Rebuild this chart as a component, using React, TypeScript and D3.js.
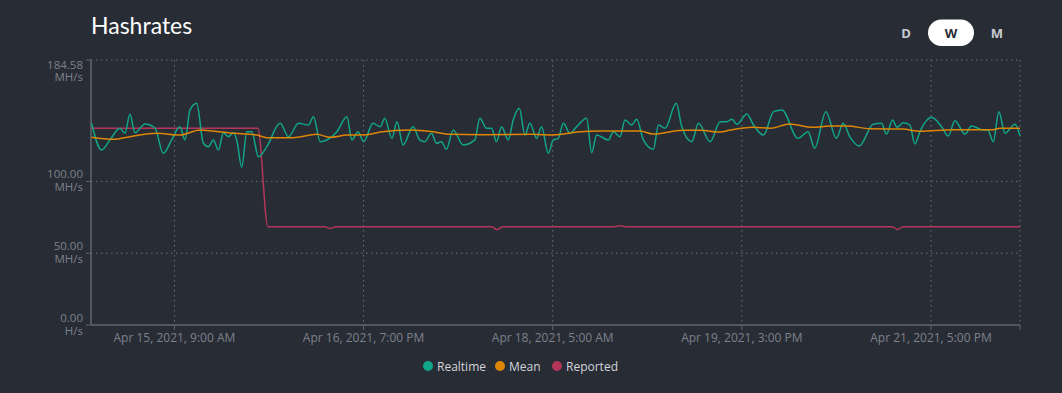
import React from "react";
import * as d3 from "d3";

// hours since Apr 14, 2021 18:00
const realtimeHours = [
  0.1, 1.9, 3.4, 5.2, 6.1, 7.0, 7.9, 9.7, 11.5, 13.0, 14.5, 16.0, 16.9, 17.8, 19.0, 20.2,
  21.1, 22.0, 22.9, 23.8, 24.7, 25.6, 26.2, 27.1, 28.0, 28.9, 30.1, 31.6, 34.0, 35.5, 37.3,
  39.1, 40.0, 41.2, 44.2, 46.0, 46.9, 48.0, 49.0, 50.7, 52.0, 52.8, 54.1, 55.0, 56.1, 57.9,
  59.1, 60.0, 61.2, 62.1, 63.0, 63.9, 65.1, 66.9, 69.0, 69.9, 71.1, 72.0, 72.9, 73.8, 75.0,
  75.9, 77.0, 78.0, 78.9, 80.1, 81.0, 82.2, 83.1, 84.0, 84.9, 86.1, 87.3, 89.1, 90.0, 90.9,
  93.0, 93.9, 95.1, 96.0, 97.2, 98.1, 99.3, 101.1, 102.0, 103.2, 105.2, 106.2, 108.0, 109.2,
  111.3, 113.1, 114.3, 115.2, 116.1, 117.9, 119.1, 120.9, 122.7, 124.2, 127.1, 128.9, 130.1,
  132.1, 134.0, 135.2, 136.4, 138.1, 140.6, 142.1, 143.0, 144.1, 144.9, 146.0, 147.2, 148.1,
  149.0, 151.1, 152.9, 154.1, 155.3, 157.1, 158.3, 160.4, 161.2, 162.2, 163.2, 164.3, 166.1, 167.0,
];
const realtimeValues = [
  140.5, 121.9, 128.9, 137.0, 133.5, 146.8, 133.9, 140.0, 137.2, 119.6, 128.9, 138.1, 128.9,
  149.8, 154.4, 126.6, 124.2, 128.9, 121.9, 133.9, 131.2, 133.9, 128.9, 109.8, 134.6, 134.6,
  117.2, 124.2, 140.5, 131.2, 140.5, 139.3, 145.1, 127.7, 134.6, 145.1, 128.9, 134.6, 127.7,
  140.5, 138.1, 144.0, 130.0, 141.6, 125.4, 138.1, 128.9, 127.7, 133.5, 126.6, 127.7, 122.4,
  135.8, 125.4, 128.9, 144.0, 137.0, 137.0, 127.7, 138.1, 128.9, 142.8, 150.9, 132.3, 140.5,
  130.0, 138.1, 119.6, 128.9, 130.0, 140.5, 133.5, 138.1, 144.0, 120.0, 132.3, 128.9, 134.6,
  131.2, 142.8, 139.3, 143.3, 128.9, 122.4, 139.3, 137.0, 154.4, 138.1, 127.7, 140.5, 127.7,
  141.6, 141.6, 143.3, 139.8, 147.0, 139.3, 132.3, 148.6, 149.8, 130.0, 134.6, 123.1, 148.6,
  130.0, 140.5, 131.2, 124.7, 139.8, 140.5, 133.0, 142.8, 137.7, 140.9, 139.3, 126.1, 134.6,
  144.7, 138.1, 131.6, 142.3, 133.0, 138.6, 135.8, 135.8, 127.7, 148.6, 133.5, 139.8, 131.6,
];

const meanHours = [
  0.1, 4.0, 7.0, 11.8, 16.0, 19.6, 21.9, 25.0, 29.8, 31.6, 36.3, 40.6, 43.0, 46.0, 49.6, 52.0,
  57.3, 61.5, 64.5, 70.5, 79.5, 83.0, 87.9, 91.5, 98.7, 101.0, 106.4, 109.5, 113.1, 114.9,
  119.0, 122.1, 125.6, 129.8, 132.8, 135.9, 140.0, 145.9, 149.0, 154.9, 162.1, 163.4, 167.0,
];
const meanValues = [
  130.7, 129.3, 131.2, 133.5, 132.3, 135.8, 135.1, 133.7, 132.3, 130.5, 130.5, 132.8, 130.7,
  132.3, 132.5, 134.4, 135.8, 134.6, 132.8, 132.5, 132.8, 132.3, 134.6, 135.1, 135.1, 133.0,
  135.6, 135.6, 134.4, 135.8, 137.7, 137.0, 140.0, 137.7, 138.6, 138.6, 136.7, 136.5, 134.9,
  136.0, 136.0, 137.0, 137.0,
];

const reportedHours = [0, 30.0, 31.8, 42.0, 43.0, 44.0, 72.0, 73.0, 74.0, 94.0, 95.0, 96.0, 144.0, 145.0, 146.0, 167.0];
const reportedValues = [137.0, 137.0, 68.5, 68.5, 67.2, 68.5, 68.5, 66.4, 68.5, 68.5, 69.1, 68.5, 68.5, 66.6, 68.5, 68.5];

const yTicks = [0, 50, 100, 184.58];
const yUnits = ["H/s", "MH/s", "MH/s", "MH/s"];
const xTickHours = [15, 49, 83, 117, 151];
const xTickLabels = [
  "Apr 15, 2021, 9:00 AM",
  "Apr 16, 2021, 7:00 PM",
  "Apr 18, 2021, 5:00 AM",
  "Apr 19, 2021, 3:00 PM",
  "Apr 21, 2021, 5:00 PM",
];
const seriesNames = ["Realtime", "Mean", "Reported"];
const seriesColors = ["#11a589", "#de8605", "#b3365a"];
const ranges = ["D", "W", "M"];

const width = 1062;
const height = 393;
const margin = { top: 60, right: 42, bottom: 68, left: 91 };
const font = "'Open Sans', 'Noto Sans', sans-serif";

export default function App() {
  const ref = React.useRef<SVGSVGElement>(null);

  React.useEffect(() => {
    const svg = d3.select(ref.current);
    svg.selectAll("*").remove();

    svg.append("rect").attr("width", width).attr("height", height).attr("fill", "#282c35");

    const x = d3.scaleLinear().domain([0, 167]).range([margin.left, width - margin.right]);
    const y = d3.scaleLinear().domain([0, 184.58]).range([height - margin.bottom, margin.top]);

    // title
    svg
      .append("text")
      .attr("x", 91)
      .attr("y", 34)
      .attr("fill", "#ffffff")
      .attr("font-family", "'Lato', 'Open Sans', sans-serif")
      .attr("font-size", 23)
      .text("Hashrates");

    // range toggle
    const toggle = svg.append("g");
    const rx = [906, 951, 997];
    toggle
      .append("rect")
      .attr("x", 928)
      .attr("y", 19.5)
      .attr("width", 46)
      .attr("height", 26.5)
      .attr("rx", 13.25)
      .attr("fill", "#ffffff");
    toggle
      .selectAll("text")
      .data(ranges)
      .join("text")
      .attr("x", (d, i) => rx[i])
      .attr("y", 37.5)
      .attr("text-anchor", "middle")
      .attr("font-family", font)
      .attr("font-weight", 700)
      .attr("font-size", 13)
      .attr("fill", (d) => (d === "W" ? "#282c35" : "#c9cbd1"))
      .text((d) => d);

    const gridColor = "#6b6f79";
    const grid = svg.append("g");
    grid
      .selectAll(".hgrid")
      .data(yTicks.filter((d) => d > 0))
      .join("line")
      .attr("x1", margin.left)
      .attr("x2", width - margin.right)
      .attr("y1", (d) => y(d))
      .attr("y2", (d) => y(d))
      .attr("stroke", gridColor)
      .attr("stroke-dasharray", "1.5 3.5");
    grid
      .selectAll(".vgrid")
      .data([...xTickHours, 167])
      .join("line")
      .attr("x1", (d) => x(d))
      .attr("x2", (d) => x(d))
      .attr("y1", margin.top)
      .attr("y2", height - margin.bottom)
      .attr("stroke", gridColor)
      .attr("stroke-dasharray", "1.5 3.5");

    // axes
    const axisColor = "#60646e";
    const labelColor = "#7d818b";
    const yAxis = svg.append("g").attr("transform", `translate(${margin.left},0)`);
    yAxis
      .append("line")
      .attr("y1", margin.top)
      .attr("y2", height - margin.bottom)
      .attr("stroke", axisColor)
      .attr("stroke-width", 1.5);
    const yt = yAxis
      .selectAll(".yt")
      .data(yTicks)
      .join("g")
      .attr("transform", (d) => `translate(0,${y(d)})`);
    yt.append("line").attr("x1", -5).attr("x2", 0).attr("stroke", axisColor);
    // value and unit on two lines
    yt.append("text")
      .attr("text-anchor", "end")
      .attr("font-family", font)
      .attr("font-size", 11.5)
      .attr("fill", labelColor)
      .selectAll("tspan")
      .data((d, i) => [
        { t: d.toFixed(2), dy: d === 184.58 ? 9 : -3 },
        { t: yUnits[i], dy: d === 184.58 ? 21 : 9.5 },
      ])
      .join("tspan")
      .attr("x", -8)
      .attr("y", (d) => d.dy)
      .text((d) => d.t);

    const xAxis = svg.append("g").attr("transform", `translate(0,${height - margin.bottom})`);
    xAxis
      .append("line")
      .attr("x1", margin.left)
      .attr("x2", width - margin.right)
      .attr("stroke", axisColor)
      .attr("stroke-width", 1.5);
    xAxis
      .selectAll(".xtick")
      .data([...xTickHours, 167])
      .join("line")
      .attr("x1", (d) => x(d))
      .attr("x2", (d) => x(d))
      .attr("y1", 0)
      .attr("y2", 5)
      .attr("stroke", axisColor);
    xAxis
      .selectAll(".xl")
      .data(xTickHours)
      .join("text")
      .attr("x", (d) => x(d))
      .attr("y", 17)
      .attr("text-anchor", "middle")
      .attr("font-family", font)
      .attr("font-size", 12)
      .attr("fill", labelColor)
      .text((d, i) => xTickLabels[i]);

    // lines
    const line = d3
      .line<[number, number]>()
      .x((d) => x(d[0]))
      .y((d) => y(d[1]))
      .curve(d3.curveMonotoneX);

    const series: [number, number][][] = [
      realtimeHours.map((h, i) => [h, realtimeValues[i]]),
      meanHours.map((h, i) => [h, meanValues[i]]),
      reportedHours.map((h, i) => [h, reportedValues[i]]),
    ];
    const order = [2, 0, 1];
    svg
      .append("g")
      .selectAll("path")
      .data(order)
      .join("path")
      .attr("d", (i) => line(series[i]))
      .attr("fill", "none")
      .attr("stroke", (i) => seriesColors[i])
      .attr("stroke-width", 1.5);

    // legend
    const legendX = [428, 500, 557];
    const lg = svg
      .append("g")
      .selectAll("g")
      .data(seriesNames)
      .join("g")
      .attr("transform", (d, i) => `translate(${legendX[i]},366)`);
    lg.append("circle").attr("r", 5).attr("fill", (d, i) => seriesColors[i]);
    lg.append("text")
      .attr("x", 9)
      .attr("y", 4.5)
      .attr("font-family", font)
      .attr("font-size", 12)
      .attr("fill", "#d3d5da")
      .text((d) => d);
  }, []);

  return (
    <div style={{ position: "absolute", left: 0, top: 0 }}>
      <svg ref={ref} width={width} height={height} style={{ display: "block" }} />
    </div>
  );
}
